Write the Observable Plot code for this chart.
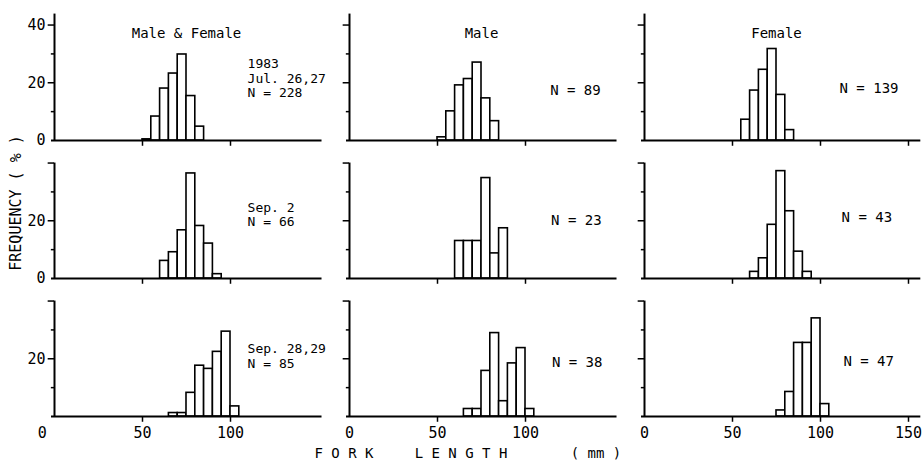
<!DOCTYPE html>
<html><head><meta charset="utf-8">
<script src="https://cdn.jsdelivr.net/npm/d3@7"></script>
<script src="https://cdn.jsdelivr.net/npm/@observablehq/plot@0.6"></script>
<style>
body{margin:0;background:#fff}
svg{font-family:"DejaVu Sans Mono",monospace}
</style>
</head><body><div id="chart"></div>
<script>
// ---- data ----
const groups = ["Male & Female", "Male", "Female"];
const periods = ["1983 Jul. 26,27", "Sep. 2", "Sep. 28,29"];
const periodLabels = ["1983\nJul. 26,27", "Sep. 2", "Sep. 28,29"];
const sampleN = [[228, 89, 139], [66, 23, 43], [85, 38, 47]];
const binWidth = 5; // mm

// Jul. 26,27
const julBothBins = [50, 55, 60, 65, 70, 75, 80];
const julBothPct = [0.4, 8.3, 18.0, 23.2, 29.8, 15.4, 4.8];
const julMaleBins = [50, 55, 60, 65, 70, 75, 80];
const julMalePct = [1.1, 10.1, 19.1, 21.3, 27.0, 14.6, 6.7];
const julFemaleBins = [55, 60, 65, 70, 75, 80];
const julFemalePct = [7.2, 17.3, 24.5, 31.7, 15.8, 3.6];
// Sep. 2
const sep2BothBins = [60, 65, 70, 75, 80, 85, 90];
const sep2BothPct = [6.1, 9.1, 16.7, 36.4, 18.2, 12.1, 1.5];
const sep2MaleBins = [60, 65, 70, 75, 80, 85];
const sep2MalePct = [13.0, 13.0, 13.0, 34.8, 8.7, 17.4];
const sep2FemaleBins = [60, 65, 70, 75, 80, 85, 90];
const sep2FemalePct = [2.3, 7.0, 18.6, 37.2, 23.3, 9.3, 2.3];
// Sep. 28,29
const sep28BothBins = [65, 70, 75, 80, 85, 90, 95, 100];
const sep28BothPct = [1.2, 1.2, 8.2, 17.6, 16.5, 22.4, 29.4, 3.5];
const sep28MaleBins = [65, 70, 75, 80, 85, 90, 95, 100];
const sep28MalePct = [2.6, 2.6, 15.8, 28.9, 5.3, 18.4, 23.7, 2.6];
const sep28FemaleBins = [75, 80, 85, 90, 95, 100];
const sep28FemalePct = [2.1, 8.5, 25.5, 25.5, 34.0, 4.3];

const yTickValues = [0, 10, 20, 30, 40];
const xTickValues = [0, 50, 100, 150];

// ---- build tables ----
const panelSeries = [
  [[julBothBins, julBothPct], [julMaleBins, julMalePct], [julFemaleBins, julFemalePct]],
  [[sep2BothBins, sep2BothPct], [sep2MaleBins, sep2MalePct], [sep2FemaleBins, sep2FemalePct]],
  [[sep28BothBins, sep28BothPct], [sep28MaleBins, sep28MalePct], [sep28FemaleBins, sep28FemalePct]]
];
const bars = [];
const panels = [];
periods.forEach((p, r) => groups.forEach((g, c) => {
  const [bins, pct] = panelSeries[r][c];
  bins.forEach((b, i) => bars.push({fx: g, fy: p, x1: b, x2: b + binWidth, y: pct[i]}));
  panels.push({fx: g, fy: p, r, c, top: r === 0 ? 43.8 : 40, right: c === 2 ? 157 : 152});
}));
const yTicks = [];
const xTicks = [];
panels.forEach(d => {
  yTickValues.filter(v => v > 0 && v <= d.top).forEach(v =>
    yTicks.push({...d, v, len: v % 20 === 0 ? 3.6 : 1.8}));
  xTickValues.filter(v => v > 0 && (v < 150 || d.c === 2)).forEach(v => xTicks.push({...d, v}));
});
const yLabels = [];
panels.filter(d => d.c === 0).forEach(d => {
  const vals = d.r === 0 ? [0, 20, 40] : d.r === 1 ? [0, 20] : [20];
  vals.forEach(v => yLabels.push({...d, v}));
});
const xLabels = [];
panels.filter(d => d.r === 2).forEach(d => {
  xTickValues.filter(v => v < 150 || d.c === 2).forEach(v => xLabels.push({...d, v, x: (v === 0 && d.c === 0) ? -7 : v}));
});
// annotation text (positions in data units)
const notes = [];
const notePos = [
  [[109.7, 21.7], [114, 17.2], [110.8, 17.9]],
  [[109.7, 22.2], [114.5, 20], [112, 21]],
  [[109.7, 21.0], [115, 18.6], [113, 19]]
];
periods.forEach((p, r) => groups.forEach((g, c) => {
  const t = (c === 0 ? periodLabels[r] + "\n" : "") + "N = " + sampleN[r][c];
  notes.push({fx: g, fy: p, x: notePos[r][c][0], y: notePos[r][c][1], t, multi: c === 0});
}));
const titles = groups.map(g => ({fx: g, fy: periods[0], t: g}));

const chart = Plot.plot({
  width: 923, height: 463,
  marginTop: 13, marginBottom: 46, marginLeft: 53, marginRight: 15,
  style: {fontFamily: '"DejaVu Sans Mono", monospace', fontSize: "14px", background: "white", color: "black"},
  fx: {domain: groups, paddingInner: 0.1066, paddingOuter: 0, axis: null, label: null},
  fy: {domain: periods, paddingInner: 0.0767, paddingOuter: 0, axis: null, label: null},
  x: {domain: [0, 150], axis: null},
  y: {domain: [0, 44], axis: null},
  marks: [
    Plot.rect(bars, {fx: "fx", fy: "fy", x1: "x1", x2: "x2", y1: 0, y2: "y", fill: "white", stroke: "black", strokeWidth: 1.6}),
    Plot.ruleY(panels, {fx: "fx", fy: "fy", y: 0, x1: -1.7, x2: "right", stroke: "black", strokeWidth: 2}),
    Plot.ruleX(panels, {fx: "fx", fy: "fy", x: 0, y1: 0, y2: "top", stroke: "black", strokeWidth: 2}),
    Plot.ruleY(yTicks, {fx: "fx", fy: "fy", y: "v", x1: d => -d.len, x2: 0, stroke: "black", strokeWidth: 1.5}),
    Plot.ruleX(xTicks, {fx: "fx", fy: "fy", x: "v", y1: 0, y2: -2, stroke: "black", strokeWidth: 1.5}),
    Plot.text(yLabels, {fx: "fx", fy: "fy", x: 0, y: "v", text: d => String(d.v), dx: -9, textAnchor: "end", fontSize: 15, fill: "black"}),
    Plot.text(xLabels, {fx: "fx", fy: "fy", x: "x", y: 0, text: d => String(d.v), dy: 17, fontSize: 15, fill: "black"}),
    Plot.text(titles, {fx: "fx", fy: "fy", x: 75, frameAnchor: "top", dy: 15, text: "t", fill: "black"}),
    Plot.text(notes.filter(d => d.multi), {fx: "fx", fy: "fy", x: "x", y: "y", text: "t", textAnchor: "start", lineAnchor: "middle", fontSize: 13, lineHeight: 1.12, fill: "black"}),
    Plot.text(notes.filter(d => !d.multi), {fx: "fx", fy: "fy", x: "x", y: "y", text: "t", textAnchor: "start", lineAnchor: "middle", fontSize: 14, fill: "black"})
  ]
});

const svg = d3.select(chart);
svg.append("text")
  .attr("transform", "translate(16,203) rotate(-90)")
  .attr("text-anchor", "middle").attr("dominant-baseline", "middle")
  .attr("font-size", 15).attr("fill", "black")
  .text("FREQUENCY ( % )");
[["F O R K", 344], ["L E N G T H", 461], ["( mm )", 596]].forEach(([t, x]) =>
  svg.append("text").attr("x", x).attr("y", 454)
    .attr("text-anchor", "middle").attr("dominant-baseline", "middle")
    .attr("font-size", 14).attr("fill", "black").text(t));

document.getElementById("chart").appendChild(chart);
</script>
</body></html>
